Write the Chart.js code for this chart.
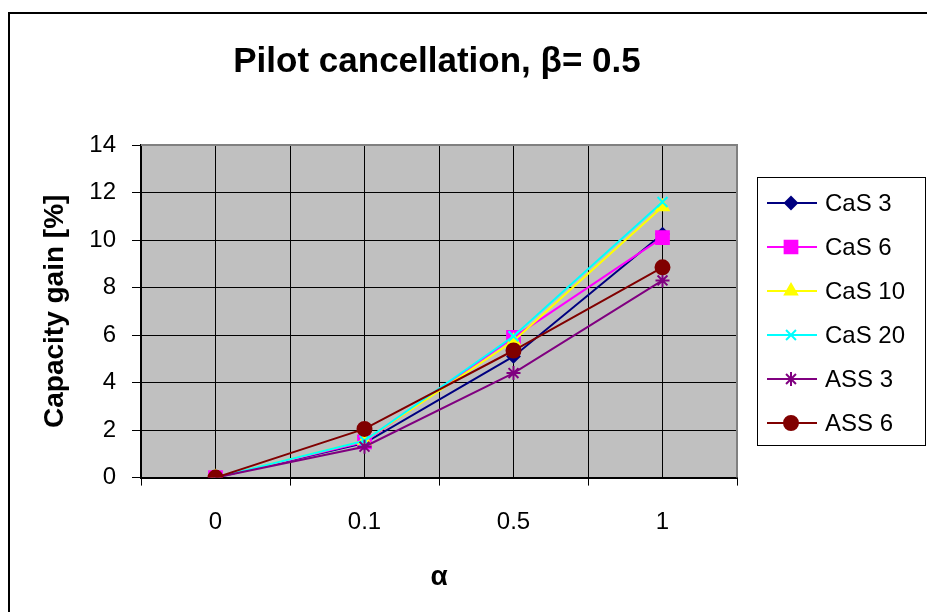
<!DOCTYPE html>
<html>
<head>
<meta charset="utf-8">
<script src="https://cdn.jsdelivr.net/npm/chart.js@4/dist/chart.umd.min.js"></script>
<style>
  html, body { margin: 0; padding: 0; background: #fff; }
  #wrap { width: 927px; height: 612px; }
</style>
</head>
<body>
<div id="wrap"><canvas id="myChart" width="927" height="612"></canvas></div>
<script>
// values
const alphaLabels = ['0', '0.1', '0.5', '1'];
const yTicks = [0, 2, 4, 6, 8, 10, 12, 14];

const cas3 = [0, 1.45, 5.1, 10.25];
const cas6 = [0, 1.5, 5.9, 10.1];
const cas10 = [0, 1.55, 5.75, 11.4];
const cas20 = [0, 1.55, 5.95, 11.6];
const ass3 = [0, 1.3, 4.4, 8.3];
const ass6 = [0, 2.05, 5.35, 8.85];

const seriesNames = ['CaS 3', 'CaS 6', 'CaS 10', 'CaS 20', 'ASS 3', 'ASS 6'];
const seriesValues = [cas3, cas6, cas10, cas20, ass3, ass6];
const seriesColors = ['#000080', '#FF00FF', '#FFFF00', '#00FFFF', '#800080', '#800000'];
const seriesMarkers = ['rectRot', 'rect', 'triangle', 'crossRot', 'star', 'circle'];
const markerSizes = [6, 9, 7, 7, 7, 7];

Chart.defaults.font.family = '"Liberation Sans", Arial, sans-serif';
Chart.defaults.color = '#000';

const datasets = seriesNames.map((name, i) => ({
  label: name,
  data: seriesValues[i].map((v, j) => ({ x: j, y: v })),
  borderColor: seriesColors[i],
  backgroundColor: seriesColors[i],
  borderWidth: 2,
  pointStyle: seriesMarkers[i],
  pointRadius: markerSizes[i],
  pointBorderWidth: 2,
  order: seriesNames.length - i,
  tension: 0
}));

// grey plot area, outer frame and boxed legend
const excelLook = {
  id: 'excelLook',
  beforeDraw(chart) {
    const { ctx, chartArea: a } = chart;
    ctx.save();
    ctx.fillStyle = '#fff';
    ctx.fillRect(0, 0, chart.width, chart.height);
    ctx.fillStyle = '#C0C0C0';
    ctx.fillRect(a.left, a.top, a.right - a.left, a.bottom - a.top);
    ctx.strokeStyle = '#000';
    ctx.lineWidth = 2;
    ctx.beginPath();
    ctx.moveTo(9, chart.height);
    ctx.lineTo(9, 13);
    ctx.lineTo(chart.width, 13);
    ctx.stroke();
    ctx.restore();
  },
  beforeDatasetsDraw(chart) {
    const { ctx, chartArea: a } = chart;
    ctx.save();
    ctx.strokeStyle = '#808080';
    ctx.lineWidth = 2;
    ctx.beginPath();
    ctx.moveTo(a.left, a.top);
    ctx.lineTo(a.right, a.top);
    ctx.lineTo(a.right, a.bottom);
    ctx.stroke();
    ctx.restore();
  },
  afterDraw(chart) {
    const { ctx, chartArea: a } = chart;
    const left = a.right + 20, top = 177, w = 168, h = 268;
    ctx.save();
    ctx.strokeStyle = '#000';
    ctx.lineWidth = 1;
    ctx.strokeRect(left + 0.5, top + 0.5, w, h);
    ctx.font = '24px "Liberation Sans", Arial, sans-serif';
    ctx.textBaseline = 'middle';
    seriesNames.forEach((name, i) => {
      const y = top + 26 + i * 44;
      ctx.strokeStyle = seriesColors[i];
      ctx.fillStyle = seriesColors[i];
      ctx.lineWidth = 2;
      ctx.beginPath();
      ctx.moveTo(left + 10, y);
      ctx.lineTo(left + 60, y);
      ctx.stroke();
      Chart.helpers.drawPoint(ctx, {
        pointStyle: seriesMarkers[i],
        radius: markerSizes[i],
        rotation: 0,
        borderWidth: 2
      }, left + 34, y);
      ctx.fillStyle = '#000';
      ctx.fillText(name, left + 68, y + 1);
    });
    ctx.restore();
  }
};

const config = {
  type: 'line',
  data: { datasets },
  options: {
    responsive: false,
    animation: false,
    layout: { padding: { left: 0, right: 53, top: 0, bottom: 8 } },
    plugins: {
      legend: { display: false },
      tooltip: { enabled: false },
      title: {
        display: true,
        text: 'Pilot cancellation, β= 0.5',
        font: { size: 35, weight: 'bold' },
        padding: { top: 41, bottom: 62 }
      }
    },
    scales: {
      x: {
        type: 'linear',
        min: -0.5,
        max: 3.5,
        afterBuildTicks(scale) {
          const t = [];
          for (let v = -0.5; v <= 3.5; v += 0.5) t.push({ value: v });
          scale.ticks = t;
        },
        ticks: {
          autoSkip: false,
          maxRotation: 0,
          padding: 22,
          font: { size: 24 },
          callback: (v) => Number.isInteger(v) ? alphaLabels[v] : ''
        },
        grid: {
          color: '#000',
          lineWidth: 1,
          tickLength: 8,
          tickColor: (c) => Number.isInteger(c.tick.value) ? 'rgba(0,0,0,0)' : '#000'
        },
        border: { color: '#000', width: 2 },
        title: {
          display: true,
          text: 'α',
          font: { size: 28, weight: 'bold' },
          padding: { top: 2, bottom: 10 }
        }
      },
      y: {
        min: 0,
        max: 14,
        afterBuildTicks(scale) {
          scale.ticks = yTicks.map(v => ({ value: v }));
        },
        afterFit(scale) { scale.width = 141; },
        ticks: {
          padding: 16,
          font: { size: 24 }
        },
        grid: {
          color: '#000',
          lineWidth: 1,
          tickLength: 9,
          tickColor: '#000'
        },
        border: { color: '#000', width: 2 },
        title: {
          display: true,
          text: 'Capacity gain [%]',
          font: { size: 28, weight: 'bold' },
          padding: { top: 38, bottom: 16 }
        }
      },
      // empty room on the right for the legend box
      yRoom: {
        type: 'linear',
        position: 'right',
        afterFit(scale) { scale.width = 137; },
        grid: { display: false },
        ticks: { display: false },
        border: { display: false }
      }
    }
  },
  plugins: [excelLook]
};

const myChart = new Chart(document.getElementById('myChart').getContext('2d'), config);
</script>
</body>
</html>
